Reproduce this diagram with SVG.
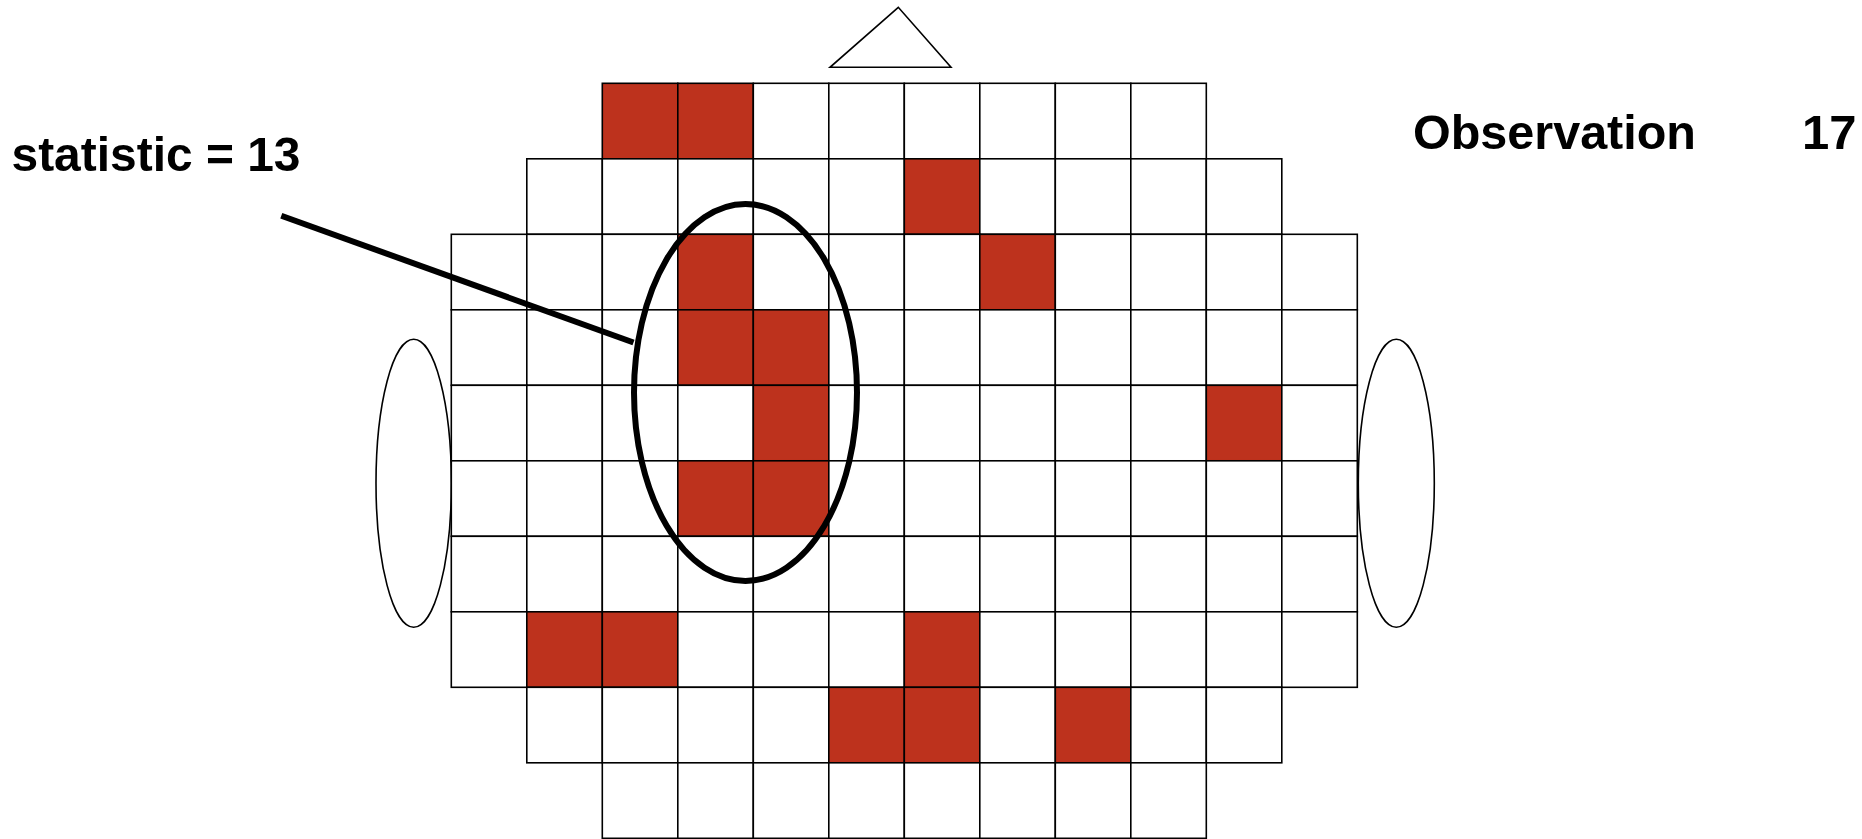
<svg xmlns="http://www.w3.org/2000/svg" width="1862" height="839" viewBox="0 0 1862 839">
<style>
.c{fill:#ffffff;stroke:#000;stroke-width:1.6}
.r{fill:#bd321d;stroke:#000;stroke-width:1.6}
.thin{fill:#ffffff;stroke:#000;stroke-width:1.6}
.roi{fill:none;stroke:#000;stroke-width:6}
.lead{stroke:#000;stroke-width:6;fill:none}
.lbl{font-family:"Liberation Sans",Arial,sans-serif;font-weight:bold;font-size:49px;fill:#000}
</style>
<rect width="1862" height="839" fill="#ffffff"/>
<defs>
<rect id="cell" width="75.5" height="75.5"/>
</defs>
<g id="nose"><polygon class="thin" points="898.3,7.3 830,67.3 951,67.3"/></g>
<g id="ear-left"><ellipse class="thin" cx="413.7" cy="483.3" rx="37.7" ry="144"/></g>
<g id="ear-right"><ellipse class="thin" cx="1396.3" cy="483.3" rx="38" ry="144"/></g>
<g id="grid">
<!-- row 0 -->
<use href="#cell" class="r" x="602.3" y="83.3"/><use href="#cell" class="r" x="677.8" y="83.3"/><use href="#cell" class="c" x="753.3" y="83.3"/><use href="#cell" class="c" x="828.8" y="83.3"/><use href="#cell" class="c" x="904.3" y="83.3"/><use href="#cell" class="c" x="979.8" y="83.3"/><use href="#cell" class="c" x="1055.3" y="83.3"/><use href="#cell" class="c" x="1130.8" y="83.3"/>
<!-- row 1 -->
<use href="#cell" class="c" x="526.8" y="158.8"/><use href="#cell" class="c" x="602.3" y="158.8"/><use href="#cell" class="c" x="677.8" y="158.8"/><use href="#cell" class="c" x="753.3" y="158.8"/><use href="#cell" class="c" x="828.8" y="158.8"/><use href="#cell" class="r" x="904.3" y="158.8"/><use href="#cell" class="c" x="979.8" y="158.8"/><use href="#cell" class="c" x="1055.3" y="158.8"/><use href="#cell" class="c" x="1130.8" y="158.8"/><use href="#cell" class="c" x="1206.3" y="158.8"/>
<!-- row 2 -->
<use href="#cell" class="c" x="451.3" y="234.3"/><use href="#cell" class="c" x="526.8" y="234.3"/><use href="#cell" class="c" x="602.3" y="234.3"/><use href="#cell" class="r" x="677.8" y="234.3"/><use href="#cell" class="c" x="753.3" y="234.3"/><use href="#cell" class="c" x="828.8" y="234.3"/><use href="#cell" class="c" x="904.3" y="234.3"/><use href="#cell" class="r" x="979.8" y="234.3"/><use href="#cell" class="c" x="1055.3" y="234.3"/><use href="#cell" class="c" x="1130.8" y="234.3"/><use href="#cell" class="c" x="1206.3" y="234.3"/><use href="#cell" class="c" x="1281.8" y="234.3"/>
<!-- row 3 -->
<use href="#cell" class="c" x="451.3" y="309.8"/><use href="#cell" class="c" x="526.8" y="309.8"/><use href="#cell" class="c" x="602.3" y="309.8"/><use href="#cell" class="r" x="677.8" y="309.8"/><use href="#cell" class="r" x="753.3" y="309.8"/><use href="#cell" class="c" x="828.8" y="309.8"/><use href="#cell" class="c" x="904.3" y="309.8"/><use href="#cell" class="c" x="979.8" y="309.8"/><use href="#cell" class="c" x="1055.3" y="309.8"/><use href="#cell" class="c" x="1130.8" y="309.8"/><use href="#cell" class="c" x="1206.3" y="309.8"/><use href="#cell" class="c" x="1281.8" y="309.8"/>
<!-- row 4 -->
<use href="#cell" class="c" x="451.3" y="385.3"/><use href="#cell" class="c" x="526.8" y="385.3"/><use href="#cell" class="c" x="602.3" y="385.3"/><use href="#cell" class="c" x="677.8" y="385.3"/><use href="#cell" class="r" x="753.3" y="385.3"/><use href="#cell" class="c" x="828.8" y="385.3"/><use href="#cell" class="c" x="904.3" y="385.3"/><use href="#cell" class="c" x="979.8" y="385.3"/><use href="#cell" class="c" x="1055.3" y="385.3"/><use href="#cell" class="c" x="1130.8" y="385.3"/><use href="#cell" class="r" x="1206.3" y="385.3"/><use href="#cell" class="c" x="1281.8" y="385.3"/>
<!-- row 5 -->
<use href="#cell" class="c" x="451.3" y="460.8"/><use href="#cell" class="c" x="526.8" y="460.8"/><use href="#cell" class="c" x="602.3" y="460.8"/><use href="#cell" class="r" x="677.8" y="460.8"/><use href="#cell" class="r" x="753.3" y="460.8"/><use href="#cell" class="c" x="828.8" y="460.8"/><use href="#cell" class="c" x="904.3" y="460.8"/><use href="#cell" class="c" x="979.8" y="460.8"/><use href="#cell" class="c" x="1055.3" y="460.8"/><use href="#cell" class="c" x="1130.8" y="460.8"/><use href="#cell" class="c" x="1206.3" y="460.8"/><use href="#cell" class="c" x="1281.8" y="460.8"/>
<!-- row 6 -->
<use href="#cell" class="c" x="451.3" y="536.3"/><use href="#cell" class="c" x="526.8" y="536.3"/><use href="#cell" class="c" x="602.3" y="536.3"/><use href="#cell" class="c" x="677.8" y="536.3"/><use href="#cell" class="c" x="753.3" y="536.3"/><use href="#cell" class="c" x="828.8" y="536.3"/><use href="#cell" class="c" x="904.3" y="536.3"/><use href="#cell" class="c" x="979.8" y="536.3"/><use href="#cell" class="c" x="1055.3" y="536.3"/><use href="#cell" class="c" x="1130.8" y="536.3"/><use href="#cell" class="c" x="1206.3" y="536.3"/><use href="#cell" class="c" x="1281.8" y="536.3"/>
<!-- row 7 -->
<use href="#cell" class="c" x="451.3" y="611.8"/><use href="#cell" class="r" x="526.8" y="611.8"/><use href="#cell" class="r" x="602.3" y="611.8"/><use href="#cell" class="c" x="677.8" y="611.8"/><use href="#cell" class="c" x="753.3" y="611.8"/><use href="#cell" class="c" x="828.8" y="611.8"/><use href="#cell" class="r" x="904.3" y="611.8"/><use href="#cell" class="c" x="979.8" y="611.8"/><use href="#cell" class="c" x="1055.3" y="611.8"/><use href="#cell" class="c" x="1130.8" y="611.8"/><use href="#cell" class="c" x="1206.3" y="611.8"/><use href="#cell" class="c" x="1281.8" y="611.8"/>
<!-- row 8 -->
<use href="#cell" class="c" x="526.8" y="687.3"/><use href="#cell" class="c" x="602.3" y="687.3"/><use href="#cell" class="c" x="677.8" y="687.3"/><use href="#cell" class="c" x="753.3" y="687.3"/><use href="#cell" class="r" x="828.8" y="687.3"/><use href="#cell" class="r" x="904.3" y="687.3"/><use href="#cell" class="c" x="979.8" y="687.3"/><use href="#cell" class="r" x="1055.3" y="687.3"/><use href="#cell" class="c" x="1130.8" y="687.3"/><use href="#cell" class="c" x="1206.3" y="687.3"/>
<!-- row 9 -->
<use href="#cell" class="c" x="602.3" y="762.8"/><use href="#cell" class="c" x="677.8" y="762.8"/><use href="#cell" class="c" x="753.3" y="762.8"/><use href="#cell" class="c" x="828.8" y="762.8"/><use href="#cell" class="c" x="904.3" y="762.8"/><use href="#cell" class="c" x="979.8" y="762.8"/><use href="#cell" class="c" x="1055.3" y="762.8"/><use href="#cell" class="c" x="1130.8" y="762.8"/>
</g>
<g id="roi"><ellipse class="roi" cx="745.5" cy="392.5" rx="111.5" ry="188.5"/></g>
<g id="connectors"><line class="lead" x1="281.3" y1="215.7" x2="633.5" y2="342.5"/></g>
<g id="label-statistic"><text class="lbl" x="11.5" y="171" textLength="289" lengthAdjust="spacingAndGlyphs">statistic = 13</text></g>
<g id="label-observation"><text class="lbl" x="1413" y="149" textLength="283" lengthAdjust="spacingAndGlyphs">Observation</text><text class="lbl" x="1802" y="149">17</text></g>
</svg>
